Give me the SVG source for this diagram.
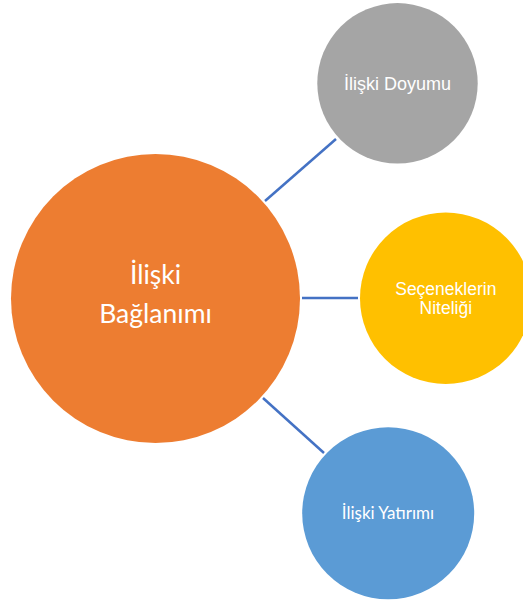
<svg xmlns="http://www.w3.org/2000/svg" width="523" height="601" viewBox="0 0 523 601">
<style>
.c{font-family:"Liberation Sans",Arial,sans-serif;fill:#fff;text-anchor:middle}
.k{font-family:Lato,"Open Sans",sans-serif;fill:#fff;text-anchor:middle}
.ln{stroke:#4472C4;stroke-width:2.5;fill:none}
</style>
<rect width="523" height="601" fill="#fff"/>
<g id="connectors">
<line class="ln" x1="265" y1="201" x2="336" y2="139"/>
<line class="ln" x1="302" y1="298" x2="358" y2="298"/>
<line class="ln" x1="263" y1="398" x2="324" y2="453"/>
</g>
<g id="center">
<circle cx="155.5" cy="298.5" r="144.5" fill="#ED7D31"/>
<text class="k" x="155.5" y="284" font-size="26.5">İlişki</text>
<text class="k" x="155.5" y="322.5" font-size="26.5">Bağlanımı</text>
</g>
<g id="doyum">
<circle cx="397.5" cy="83.3" r="80.2" fill="#A5A5A5"/>
<text class="c" x="397.5" y="89.5" font-size="18">İlişki Doyumu</text>
</g>
<g id="secenek">
<circle cx="445.7" cy="298.3" r="85.7" fill="#FFC000"/>
<text class="c" x="445.8" y="295" font-size="17.5">Seçeneklerin</text>
<text class="c" x="445.8" y="314" font-size="17.5">Niteliği</text>
</g>
<g id="yatirim">
<circle cx="388.2" cy="513.3" r="86" fill="#5B9BD5"/>
<text class="k" x="388" y="519.3" font-size="17">İlişki Yatırımı</text>
</g>
</svg>
